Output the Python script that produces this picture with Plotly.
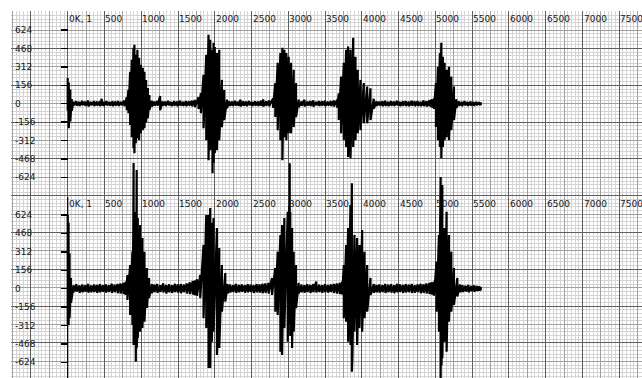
import plotly.graph_objects as go

# ---- channel 1 (upper trace): sample position, positive peak, negative peak ----
top_pos = ([0, 15, 35, 55]
           + [80, 120, 160, 200, 240, 280, 320, 360, 400, 440, 463, 490, 530, 570, 610, 650, 690, 730, 770]
           + [803, 826, 849, 871, 894, 907, 926, 948, 971, 994, 1021, 1044, 1066, 1090, 1111, 1144]
           + [1180, 1220, 1257, 1290, 1330, 1370, 1410, 1450, 1490, 1530, 1570, 1610, 1650, 1690, 1730]
           + [1779, 1811, 1847, 1884, 1915, 1938, 1969, 1983, 2000, 2029, 2061, 2097, 2129, 2166]
           + [2200, 2240, 2280, 2320, 2350, 2390, 2430, 2470, 2510, 2550, 2590, 2630, 2660, 2700, 2740]
           + [2792, 2823, 2855, 2892, 2919, 2946, 2973, 3005, 3037, 3073, 3105, 3141]
           + [3180, 3220, 3260, 3300, 3340, 3380, 3420, 3460, 3500, 3540, 3580, 3620]
           + [3664, 3686, 3718, 3754, 3786, 3813, 3845, 3882, 3913, 3944, 3981, 4026, 4072, 4117, 4162]
           + [4200, 4240, 4280, 4320, 4360, 4400, 4440, 4480, 4520, 4560, 4600, 4640, 4680, 4720, 4760,
              4800, 4840, 4880, 4920, 4950]
           + [4980, 5007, 5034, 5061, 5080, 5102, 5125, 5152, 5184, 5216, 5252, 5285]
           + [5320, 5360, 5400, 5440, 5480, 5520, 5560, 5600, 5616])
top_max = ([217, 180, 120, 40]
           + [18, 22, 14, 24, 16, 26, 15, 22, 18, 20, 42, 16, 22, 15, 20, 18, 22, 16, 26]
           + [55, 117, 270, 372, 475, 500, 415, 457, 390, 330, 304, 270, 202, 134, 74, 25]
           + [18, 22, 65, 20, 18, 24, 15, 22, 18, 26, 16, 22, 20, 25, 32]
           + [55, 90, 245, 415, 585, 543, 457, 517, 480, 430, 457, 202, 117, 35]
           + [22, 18, 24, 16, 34, 20, 18, 22, 15, 20, 18, 24, 36, 20, 28]
           + [45, 175, 347, 430, 474, 457, 430, 398, 347, 287, 175, 35]
           + [20, 34, 18, 22, 28, 16, 22, 20, 24, 17, 22, 28]
           + [35, 88, 230, 347, 457, 486, 457, 560, 398, 287, 202, 175, 146, 131, 42]
           + [22, 17, 20, 26, 16, 22, 18, 24, 15, 20, 22, 17, 25, 19, 22, 16, 27, 20, 30, 38]
           + [45, 175, 313, 430, 517, 398, 347, 287, 313, 230, 146, 38]
           + [20, 16, 22, 15, 18, 14, 16, 12, 12])
top_min = ([-60, -207, -150, -60]
           + [-14, -16, -20, -12, -18, -22, -14, -19, -16, -22, -14, -19, -14, -17, -20, -16, -18, -14, -22]
           + [-55, -80, -180, -285, -377, -420, -335, -293, -310, -250, -225, -207, -156, -122, -54, -24]
           + [-16, -18, -55, -16, -19, -14, -20, -17, -22, -16, -19, -20, -16, -22, -28]
           + [-45, -80, -208, -310, -480, -394, -590, -500, -420, -394, -310, -198, -139, -38]
           + [-18, -20, -16, -19, -22, -17, -20, -14, -19, -16, -20, -18, -24, -17, -22]
           + [-35, -113, -224, -309, -480, -284, -309, -250, -250, -198, -113, -30]
           + [-17, -22, -16, -20, -24, -14, -19, -17, -20, -16, -19, -24]
           + [-35, -139, -250, -309, -366, -452, -463, -366, -309, -250, -224, -166, -166, -139, -42]
           + [-19, -16, -22, -17, -20, -16, -19, -14, -20, -17, -19, -22, -16, -20, -17, -22, -19, -24, -22, -32]
           + [-45, -198, -309, -366, -463, -366, -309, -284, -309, -224, -139, -34]
           + [-17, -20, -14, -19, -16, -17, -13, -14, -12])

# ---- channel 2 (lower trace) ----
bot_pos = ([0, 12, 25, 45]
           + [80, 120, 160, 200, 240, 280, 320, 360, 400, 440, 480, 520, 560, 600, 640, 680, 720, 760]
           + [790, 812, 849, 880, 892, 896, 900, 907, 926, 938, 944, 953, 985, 1016, 1044, 1076, 1107, 1144]
           + [1180, 1220, 1260, 1300, 1340, 1380, 1420, 1460, 1500, 1540, 1580, 1620, 1660, 1700, 1730]
           + [1757, 1802, 1847, 1884, 1915, 1938, 1960, 1983, 2029, 2061, 2097, 2143, 2174]
           + [2210, 2250, 2290, 2330, 2370, 2410, 2450, 2490, 2530, 2570, 2610, 2650, 2690]
           + [2732, 2778, 2823, 2855, 2892, 2915, 2946, 2992, 3012, 3019, 3026, 3051, 3073, 3105, 3141]
           + [3180, 3220, 3260, 3300, 3340, 3380, 3420, 3460, 3500, 3540, 3580, 3620, 3660, 3700]
           + [3732, 3754, 3786, 3813, 3845, 3864, 3872, 3899, 3935, 3967, 4004, 4036, 4072, 4117, 4162]
           + [4200, 4240, 4280, 4320, 4360, 4400, 4440, 4480, 4520, 4560, 4600, 4640, 4680, 4720, 4760,
              4800, 4840, 4880, 4920, 4950]
           + [4980, 5016, 5048, 5071, 5083, 5094, 5125, 5152, 5184, 5216, 5252, 5298, 5334]
           + [5370, 5410, 5450, 5490, 5530, 5570, 5600, 5616])
bot_max = ([625, 560, 300, 90]
           + [30, 38, 28, 35, 30, 40, 28, 35, 32, 38, 30, 36, 30, 42, 34, 40, 45, 50]
           + [59, 116, 201, 314, 500, 1066, 625, 625, 650, 1006, 600, 600, 540, 430, 314, 176, 91, 40]
           + [35, 40, 30, 45, 32, 38, 30, 42, 36, 40, 34, 45, 55, 65, 70]
           + [80, 116, 371, 625, 625, 684, 560, 600, 515, 345, 201, 133, 40]
           + [35, 30, 40, 32, 36, 30, 38, 34, 30, 40, 36, 42, 45]
           + [50, 91, 176, 314, 455, 540, 600, 653, 700, 1063, 650, 515, 314, 201, 50]
           + [35, 30, 38, 32, 40, 60, 34, 30, 38, 32, 36, 40, 45, 50]
           + [60, 201, 371, 515, 710, 894, 600, 455, 430, 371, 498, 314, 201, 91, 40]
           + [32, 36, 30, 40, 34, 38, 30, 42, 36, 32, 38, 34, 40, 30, 36, 42, 38, 45, 50, 55]
           + [60, 229, 455, 947, 700, 879, 515, 653, 455, 314, 176, 91, 35]
           + [30, 26, 32, 24, 28, 22, 20, 15])
bot_min = ([-300, -310, -250, -120]
           + [-28, -25, -35, -30, -26, -32, -30, -28, -35, -30, -26, -33, -28, -35, -30, -38, -40, -45]
           + [-53, -96, -223, -308, -400, -477, -450, -477, -619, -500, -430, -418, -365, -333, -280, -164, -79, -38]
           + [-30, -35, -28, -32, -40, -30, -36, -28, -34, -38, -30, -40, -45, -50, -55]
           + [-60, -80, -251, -333, -673, -673, -450, -365, -562, -503, -195, -110, -40]
           + [-32, -28, -35, -30, -26, -34, -30, -28, -36, -30, -33, -38, -35]
           + [-40, -53, -195, -223, -534, -562, -333, -449, -300, -280, -400, -503, -365, -164, -40]
           + [-30, -34, -28, -36, -30, -32, -28, -35, -30, -33, -28, -36, -40, -45]
           + [-50, -251, -280, -449, -477, -704, -560, -365, -477, -333, -365, -251, -195, -53, -35]
           + [-30, -34, -28, -36, -30, -33, -38, -30, -28, -35, -32, -30, -36, -34, -30, -38, -35, -40, -45, -50]
           + [-60, -195, -365, -757, -650, -589, -449, -534, -280, -195, -138, -67, -30]
           + [-28, -24, -30, -22, -26, -20, -18, -15])

# ---- axis labelling ----
x_tick_vals = [0, 500, 1000, 1500, 2000, 2500, 3000, 3500, 4000, 4500, 5000, 5500, 6000, 6500, 7000, 7500]
x_tick_text = ["0K, 1"] + [str(v) for v in x_tick_vals[1:]]
y_tick_vals = [624, 468, 312, 156, 0, -156, -312, -468, -624]
y_tick_text = [str(v) for v in y_tick_vals]

# view windows (channel units)
X_RANGE = [-771, 7809]
Y_TOP = [-2325, 786]
Y_BOT = [-757, 2354]

FONT = dict(family="DejaVu Sans", size=9, color="#1a1a1a")
FINE = "#d4d4d4"
MID = "#a0a0a0"
DARK = "#5e5e5e"


def strokes(pos, hi, lo):
    """Oscillogram path: a vertical stroke from peak to trough at every sample."""
    xs, ys = [], []
    for p, h, l in zip(pos, hi, lo):
        xs += [p, p]
        ys += [h, l]
    return xs, ys


fig = go.Figure()

tx, ty = strokes(top_pos, top_max, top_min)
fig.add_trace(go.Scatter(x=tx, y=ty, xaxis="x", yaxis="y", mode="lines",
                         line=dict(color="#000000", width=2.2),
                         hoverinfo="skip", showlegend=False))
bx, by = strokes(bot_pos, bot_max, bot_min)
fig.add_trace(go.Scatter(x=bx, y=by, xaxis="x", yaxis="y3", mode="lines",
                         line=dict(color="#000000", width=2.2),
                         hoverinfo="skip", showlegend=False))
# placeholders so the overlay grid / tick axes get drawn
for xa, ya in [("x2", "y2"), ("x", "y4"), ("x", "y5")]:
    fig.add_trace(go.Scatter(x=[None], y=[None], xaxis=xa, yaxis=ya, mode="lines",
                             hoverinfo="skip", showlegend=False))

plain = dict(showticklabels=False, ticks="", zeroline=False, showline=False, fixedrange=True)

zero_pos = (0 - X_RANGE[0]) / (X_RANGE[1] - X_RANGE[0])

fig.update_layout(
    width=642, height=378, autosize=False,
    margin=dict(l=11, r=0, t=11, b=0, pad=0),
    paper_bgcolor="white", plot_bgcolor="white",
    font=FONT, hovermode=False, showlegend=False,
    xaxis=dict(range=X_RANGE, domain=[0, 1], anchor="y", tickmode="linear", tick0=250, dtick=500,
               showgrid=True, gridcolor=MID, gridwidth=1,
               minor=dict(tickmode="linear", tick0=0, dtick=50, showgrid=True, gridcolor=FINE, gridwidth=1),
               **plain),
    xaxis2=dict(range=X_RANGE, overlaying="x", anchor="y2", tickmode="linear", tick0=0, dtick=500,
                showgrid=True, gridcolor=DARK, gridwidth=1, **plain),
    yaxis=dict(range=Y_TOP, domain=[0, 1], anchor="x", tickmode="linear", tick0=0, dtick=312,
               showgrid=True, gridcolor=MID, gridwidth=1,
               minor=dict(tickmode="linear", tick0=0, dtick=31.2, showgrid=True, gridcolor=FINE, gridwidth=1),
               **plain),
    yaxis2=dict(range=Y_TOP, overlaying="y", anchor="x2", tickmode="linear", tick0=156, dtick=312,
                showgrid=True, gridcolor=DARK, gridwidth=1, **plain),
    yaxis3=dict(range=Y_BOT, overlaying="y", anchor="x", showgrid=False, **plain),
    yaxis4=dict(range=Y_TOP, overlaying="y", anchor="free", position=zero_pos, side="left",
                tickmode="array", tickvals=y_tick_vals, ticks="outside", ticklen=7, tickwidth=1.5,
                tickcolor="#000000", showticklabels=False, showgrid=False, zeroline=False,
                showline=False, fixedrange=True),
    yaxis5=dict(range=Y_BOT, overlaying="y", anchor="free", position=zero_pos, side="left",
                tickmode="array", tickvals=y_tick_vals, ticks="outside", ticklen=7, tickwidth=1.5,
                tickcolor="#000000", showticklabels=False, showgrid=False, zeroline=False,
                showline=False, fixedrange=True),
)

PLOT_H = 378 - 11


def paper_y(py):
    return (378 - py) / PLOT_H


annotations = []
# scale labels along the top of each channel strip
for label_y in (paper_y(19.5), paper_y(203.5)):
    for v, t in zip(x_tick_vals, x_tick_text):
        annotations.append(dict(x=v, xref="x", y=label_y, yref="paper", text=t, showarrow=False,
                                xanchor="left", yanchor="middle", xshift=-1, font=FONT))
# amplitude labels at the left edge
for yref in ("y", "y3"):
    for v, t in zip(y_tick_vals, y_tick_text):
        annotations.append(dict(x=0, xref="paper", y=v, yref=yref, text=t, showarrow=False,
                                xanchor="left", yanchor="middle", xshift=2, font=FONT))
fig.update_layout(annotations=annotations)

# time origin line of the second channel
fig.add_shape(type="line", xref="x", yref="paper", x0=0, x1=0, y0=0, y1=paper_y(197),
              line=dict(color="#000000", width=1.2))

fig.write_html("out.html", config={"displayModeBar": False, "staticPlot": True})
